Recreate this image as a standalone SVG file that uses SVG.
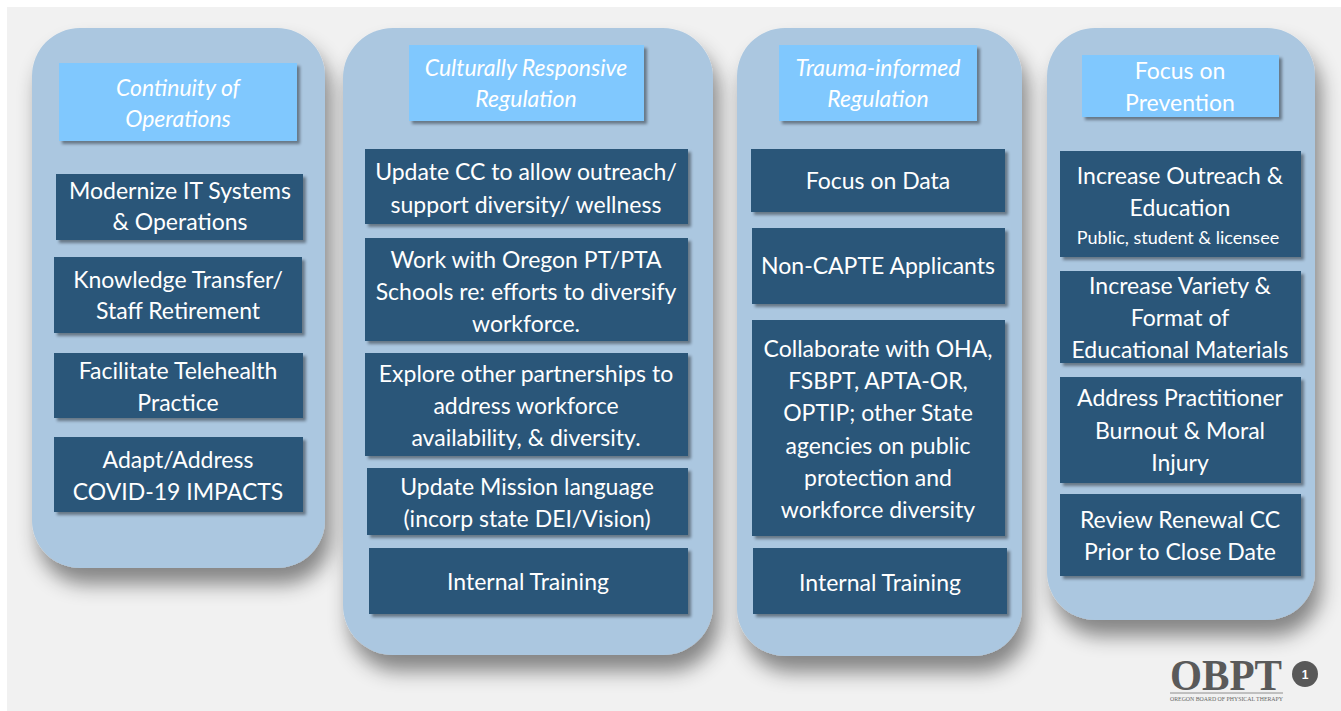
<svg xmlns="http://www.w3.org/2000/svg" width="1341" height="711" viewBox="0 0 1341 711">
<defs>
<filter id="colShadow" x="-20%" y="-20%" width="150%" height="150%">
<feDropShadow dx="6" dy="16" stdDeviation="10" flood-color="#000" flood-opacity="0.45"/>
</filter>
<filter id="boxShadow" x="-10%" y="-10%" width="130%" height="130%">
<feDropShadow dx="3" dy="3" stdDeviation="1.5" flood-color="#000" flood-opacity="0.4"/>
</filter>
<style>
.col{fill:#abc7e0;filter:url(#colShadow);}
.hdr{fill:#80c8fe;filter:url(#boxShadow);}
.box{fill:#2c5679;filter:url(#boxShadow);}
.ht{font-family:Lato,"Open Sans",sans-serif;font-style:italic;font-size:23px;fill:#fff;text-anchor:middle;}
.bt{font-family:Lato,"Open Sans",sans-serif;font-size:23px;fill:#fff;text-anchor:middle;}
.st{font-family:Lato,"Open Sans",sans-serif;font-size:18px;fill:#fff;text-anchor:middle;}
</style>
</defs>
<rect x="0" y="0" width="1341" height="711" fill="#ffffff"/>
<rect x="7" y="7" width="1334" height="704" fill="#f1f1f1"/>

<g id="col1">
<rect class="col" x="32" y="28" width="293" height="540" rx="48"/>
<g id="col1-header"><rect class="hdr" x="59" y="63" width="238" height="78"/>
<text class="ht" x="178" y="96">Continuity of</text><text class="ht" x="178" y="127">Operations</text></g>
<g id="n-modernize"><rect class="box" x="56" y="174" width="247" height="66"/>
<text class="bt" x="180" y="199">Modernize IT Systems</text><text class="bt" x="180" y="230">&amp; Operations</text></g>
<g id="n-knowledge"><rect class="box" x="54" y="257" width="248" height="76"/>
<text class="bt" x="178" y="288">Knowledge Transfer/</text><text class="bt" x="178" y="319">Staff Retirement</text></g>
<g id="n-telehealth"><rect class="box" x="54" y="353" width="249" height="65"/>
<text class="bt" x="178" y="379">Facilitate Telehealth</text><text class="bt" x="178" y="411">Practice</text></g>
<g id="n-covid"><rect class="box" x="54" y="437" width="249" height="75"/>
<text class="bt" x="178" y="468">Adapt/Address</text><text class="bt" x="178" y="500">COVID-19 IMPACTS</text></g>
</g>

<g id="col2">
<rect class="col" x="343" y="28" width="370" height="627" rx="50"/>
<g id="col2-header"><rect class="hdr" x="409" y="45" width="235" height="76"/>
<text class="ht" x="526" y="76">Culturally Responsive</text><text class="ht" x="526" y="107">Regulation</text></g>
<g id="n-updatecc"><rect class="box" x="365" y="149" width="323" height="75"/>
<text class="bt" x="526" y="180">Update CC to allow outreach/</text><text class="bt" x="526" y="213">support diversity/ wellness</text></g>
<g id="n-workwith"><rect class="box" x="365" y="238" width="323" height="103"/>
<text class="bt" x="526" y="268">Work with Oregon PT/PTA</text><text class="bt" x="526" y="300">Schools re: efforts to diversify</text><text class="bt" x="526" y="332">workforce.</text></g>
<g id="n-explore"><rect class="box" x="365" y="353" width="323" height="103"/>
<text class="bt" x="526" y="382">Explore other partnerships to</text><text class="bt" x="526" y="414">address workforce</text><text class="bt" x="526" y="446">availability, &amp; diversity.</text></g>
<g id="n-mission"><rect class="box" x="367" y="468" width="321" height="67"/>
<text class="bt" x="527" y="495">Update Mission language</text><text class="bt" x="527" y="527">(incorp state DEI/Vision)</text></g>
<g id="n-training2"><rect class="box" x="369" y="548" width="319" height="66"/>
<text class="bt" x="528" y="590">Internal Training</text></g>
</g>

<g id="col3">
<rect class="col" x="737" y="28" width="285" height="628" rx="48"/>
<g id="col3-header"><rect class="hdr" x="779" y="45" width="198" height="76"/>
<text class="ht" x="878" y="76">Trauma-informed</text><text class="ht" x="878" y="107">Regulation</text></g>
<g id="n-data"><rect class="box" x="751" y="149" width="254" height="63"/>
<text class="bt" x="878" y="189">Focus on Data</text></g>
<g id="n-noncapte"><rect class="box" x="752" y="228" width="253" height="76"/>
<text class="bt" x="878" y="274">Non-CAPTE Applicants</text></g>
<g id="n-collab"><rect class="box" x="752" y="320" width="253" height="216"/>
<text class="bt" x="878" y="357">Collaborate with OHA,</text><text class="bt" x="878" y="389">FSBPT, APTA-OR,</text><text class="bt" x="878" y="421">OPTIP; other State</text><text class="bt" x="878" y="454">agencies on public</text><text class="bt" x="878" y="486">protection and</text><text class="bt" x="878" y="518">workforce diversity</text></g>
<g id="n-training3"><rect class="box" x="753" y="548" width="254" height="66"/>
<text class="bt" x="880" y="591">Internal Training</text></g>
</g>

<g id="col4">
<rect class="col" x="1047" y="28" width="268" height="592" rx="48"/>
<g id="col4-header"><rect class="hdr" x="1082" y="55" width="197" height="62"/>
<text class="bt" x="1180" y="79">Focus on</text><text class="bt" x="1180" y="111">Prevention</text></g>
<g id="n-outreach"><rect class="box" x="1060" y="151" width="241" height="106"/>
<text class="bt" x="1180" y="184">Increase Outreach &amp;</text><text class="bt" x="1180" y="216">Education</text><text class="st" x="1178" y="244">Public, student &amp; licensee</text></g>
<g id="n-variety"><rect class="box" x="1060" y="271" width="241" height="92"/>
<text class="bt" x="1180" y="294">Increase Variety &amp;</text><text class="bt" x="1180" y="326">Format of</text><text class="bt" x="1180" y="358">Educational Materials</text></g>
<g id="n-burnout"><rect class="box" x="1060" y="377" width="241" height="106"/>
<text class="bt" x="1180" y="406">Address Practitioner</text><text class="bt" x="1180" y="439">Burnout &amp; Moral</text><text class="bt" x="1180" y="471">Injury</text></g>
<g id="n-renewal"><rect class="box" x="1060" y="494" width="241" height="82"/>
<text class="bt" x="1180" y="528">Review Renewal CC</text><text class="bt" x="1180" y="560">Prior to Close Date</text></g>
</g>

<g id="connectors"></g>

<g id="logo">
<text x="1170" y="690" font-family="'Liberation Serif',serif" font-weight="bold" font-size="45" fill="#5a5a5a" textLength="112" lengthAdjust="spacingAndGlyphs">OBPT</text>
<line x1="1170" y1="693" x2="1283" y2="693" stroke="#777" stroke-width="0.8"/>
<text x="1170" y="701" font-family="'Liberation Serif',serif" font-size="5.5" fill="#666" textLength="113" lengthAdjust="spacingAndGlyphs">OREGON BOARD OF PHYSICAL THERAPY</text>
<circle cx="1305" cy="674" r="13" fill="#595959"/>
<text x="1305" y="678.5" font-family="'Liberation Sans',sans-serif" font-weight="bold" font-size="12" fill="#fff" text-anchor="middle">1</text>
</g>
</svg>
